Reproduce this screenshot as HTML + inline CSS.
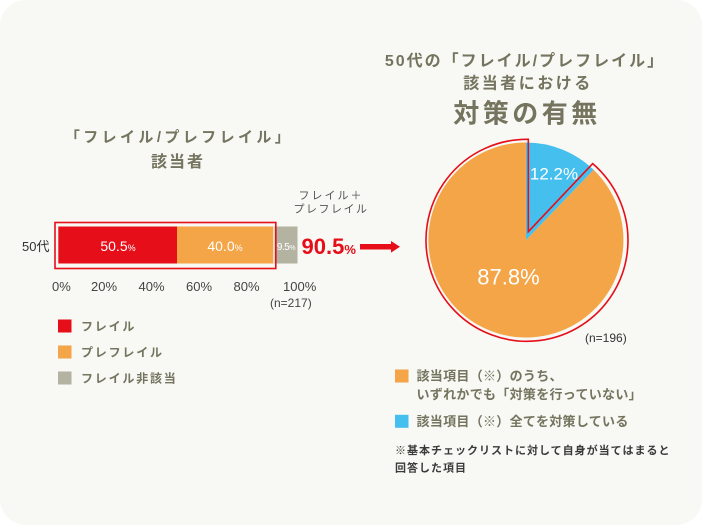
<!DOCTYPE html>
<html><head><meta charset="utf-8">
<style>
html,body{margin:0;padding:0;background:#fff;}
svg{display:block;}
text{font-family:"Liberation Sans","Noto Sans CJK JP",sans-serif;}
.t{fill:#74745f;font-weight:bold;}
</style></head>
<body>
<svg width="702" height="525" viewBox="0 0 702 525" xmlns="http://www.w3.org/2000/svg">
<rect x="0" y="0" width="702" height="525" fill="#ffffff"/>
<rect x="0" y="0" width="702" height="525" rx="26" ry="26" fill="#f8f8f4"/>

<!-- left title -->
<text class="t" x="179" y="142" font-size="15" text-anchor="middle" letter-spacing="3.4">「フレイル/プレフレイル」</text>
<text class="t" x="178" y="167" font-size="16" text-anchor="middle" letter-spacing="2">該当者</text>

<!-- right title -->
<text class="t" x="525" y="66" font-size="16" text-anchor="middle" letter-spacing="2">50代の「フレイル/プレフレイル」</text>
<text class="t" x="528" y="88.5" font-size="16" text-anchor="middle" letter-spacing="2.5">該当者における</text>
<text class="t" x="527" y="122.5" font-size="26" text-anchor="middle" letter-spacing="3.5">対策の有無</text>

<!-- top label -->
<text x="331" y="199" font-size="11" fill="#555" text-anchor="middle" letter-spacing="2">フレイル＋</text>
<text x="331" y="212.5" font-size="11" fill="#555" text-anchor="middle" letter-spacing="1.5">プレフレイル</text>

<!-- bar -->
<text x="22" y="251" font-size="13" fill="#333">50代</text>
<rect x="58.3" y="226.5" width="118.7" height="37" fill="#e60e18"/>
<rect x="177" y="226.5" width="96.3" height="37" fill="#f3a548"/>
<rect x="274.5" y="226.5" width="23" height="37" fill="#b4b2a1"/>
<rect x="55" y="222.5" width="220.8" height="46" fill="none" stroke="#e60e18" stroke-width="1.6"/>
<text x="118" y="251" font-size="14" fill="#fff" text-anchor="middle">50.5<tspan font-size="9">%</tspan></text>
<text x="225" y="251" font-size="14" fill="#fff" text-anchor="middle">40.0<tspan font-size="9">%</tspan></text>
<text x="286" y="250" font-size="10" fill="#fff" text-anchor="middle" letter-spacing="-0.5">9.5<tspan font-size="7">%</tspan></text>

<!-- ticks -->
<g font-size="13" fill="#444">
<text x="52" y="291">0%</text>
<text x="91" y="291">20%</text>
<text x="138.5" y="291">40%</text>
<text x="186" y="291">60%</text>
<text x="233.5" y="291">80%</text>
<text x="283" y="291">100%</text>
<text x="270" y="307" font-size="12">(n=217)</text>
</g>

<!-- 90.5% + arrow -->
<text x="301.5" y="254" font-size="22" fill="#e60e18" font-weight="bold">90.5<tspan font-size="13">%</tspan></text>
<rect x="360" y="244" width="33" height="5.5" fill="#e60e18"/>
<polygon points="391,241 400,246.8 391,252.6" fill="#e60e18"/>

<!-- pie -->
<path d="M526,240 L593.6,169.8 A97.5,97.5 0 1 1 526,142.5 Z" fill="#f3a548"/>
<path d="M526,240 L526,142.5 A97.5,97.5 0 0 1 593.6,169.8 Z" fill="#45bfee"/>
<path d="M528.3,231.7 L528.3,139.3 A101,101 0 1 0 592.7,163.6 Z" fill="none" stroke="#e60e18" stroke-width="1.6" stroke-linejoin="miter"/>
<text x="554" y="179.5" font-size="17" fill="#fff" text-anchor="middle">12.2%</text>
<text x="508.5" y="284.5" font-size="22" fill="#fff" text-anchor="middle">87.8%</text>
<text x="585" y="342" font-size="12" fill="#333">(n=196)</text>

<!-- left legend -->
<rect x="58" y="319.5" width="13.5" height="13" fill="#e60e18"/>
<rect x="58" y="345.5" width="13.5" height="13" fill="#f3a548"/>
<rect x="58" y="371.5" width="13.5" height="13" fill="#b4b2a1"/>
<g class="t" font-size="12" letter-spacing="1.8">
<text x="81" y="330.5">フレイル</text>
<text x="81" y="356.5">プレフレイル</text>
<text x="81" y="382.5">フレイル非該当</text>
</g>

<!-- right legend -->
<rect x="395" y="369.5" width="13.5" height="13" fill="#f3a548"/>
<rect x="395" y="414.8" width="13.5" height="13" fill="#45bfee"/>
<g class="t" font-size="13" letter-spacing="0.3">
<text x="416.5" y="380.5">該当項目（※）のうち、</text>
<text x="416.5" y="399">いずれかでも「対策を行っていない」</text>
<text x="416.5" y="426">該当項目（※）全てを対策している</text>
</g>
<g font-size="11" fill="#3a3a3a" font-weight="bold" letter-spacing="1">
<text x="395" y="454">※基本チェックリストに対して自身が当てはまると</text>
<text x="395" y="471.5">回答した項目</text>
</g>
</svg>
</body></html>
